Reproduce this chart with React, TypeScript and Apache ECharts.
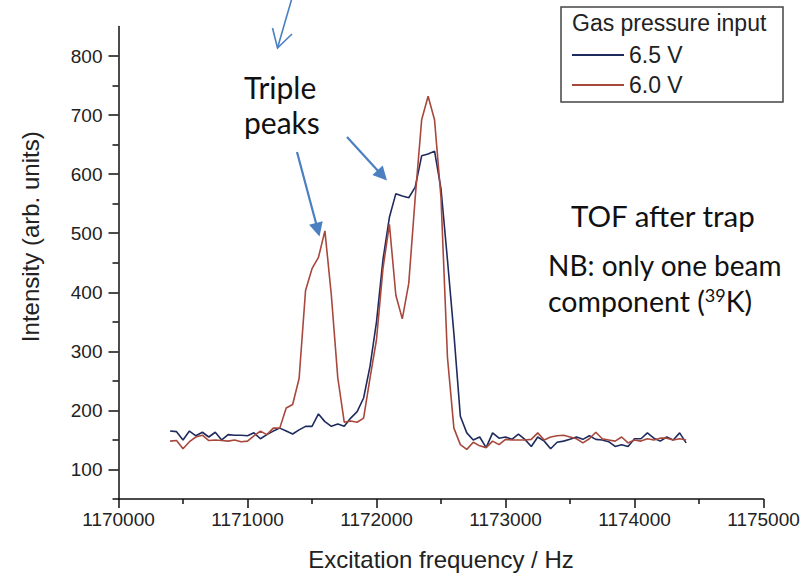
import { useEffect, useRef } from "react";
import * as echarts from "echarts";

// Excitation frequencies (Hz) of the scan
const frequencyHz = [
  1170400, 1170450, 1170500, 1170550, 1170600, 1170650, 1170700, 1170750, 1170800, 1170850,
  1170900, 1170950, 1171000, 1171050, 1171100, 1171150, 1171200, 1171250, 1171300, 1171350,
  1171400, 1171450, 1171500, 1171550, 1171600, 1171650, 1171700, 1171750, 1171800, 1171850,
  1171900, 1171950, 1172000, 1172050, 1172100, 1172150, 1172200, 1172250, 1172300, 1172350,
  1172400, 1172450, 1172500, 1172550, 1172600, 1172650, 1172700, 1172750, 1172800, 1172850,
  1172900, 1172950, 1173000, 1173050, 1173100, 1173150, 1173200, 1173250, 1173300, 1173350,
  1173400, 1173450, 1173500, 1173550, 1173600, 1173650, 1173700, 1173750, 1173800, 1173850,
  1173900, 1173950, 1174000, 1174050, 1174100, 1174150, 1174200, 1174250, 1174300, 1174350,
  1174400,
];

// Intensity (arb. units), gas pressure input 6.5 V
const intensity65V = [
  165, 164, 150, 165, 157, 163, 155, 163, 150, 159,
  158, 158, 157, 162, 152, 159, 165, 170, 165, 160,
  167, 173, 173, 194, 181, 173, 177, 173, 187, 198,
  221, 275, 350, 455, 527, 567, 563, 560, 578, 631,
  634, 639, 575, 455, 330, 190, 162, 150, 155, 137,
  162, 153, 155, 151, 160, 151, 139, 155, 148, 135,
  146, 148, 151, 155, 151, 157, 151, 150, 147, 139,
  142, 139, 152, 152, 162, 153, 148, 155, 150, 162,
  145,
];

// Intensity (arb. units), gas pressure input 6.0 V
const intensity60V = [
  148, 149, 135, 147, 155, 158, 149, 150, 149, 148,
  150, 147, 148, 157, 165, 159, 170, 170, 204, 210,
  254, 403, 440, 459, 504, 395, 255, 180, 182, 180,
  187, 255, 320, 440, 515, 395, 355, 415, 560, 692,
  732, 692, 560, 290, 170, 142, 134, 146, 140, 137,
  148, 142, 151, 150, 150, 150, 151, 162, 150, 155,
  157, 158, 155, 152, 145, 152, 163, 152, 150, 148,
  155, 145, 150, 148, 152, 150, 153, 153, 150, 152,
  150,
];

const seriesNames = ["6.5 V", "6.0 V"];
const seriesColors = ["#1f2b5e", "#a8483d"];
const legendTitle = "Gas pressure input";

const yMajorTicks = [100, 200, 300, 400, 500, 600, 700, 800];
const yMinorTicks = [50, 150, 250, 350, 450, 550, 650, 750];

const AXIS_FONT = "Liberation Sans, Arial, sans-serif";
const SLIDE_FONT = "Lato, Open Sans, sans-serif";
const ARROW = "#4a7fc1";

export default function App() {
  const ref = useRef<HTMLDivElement>(null);

  useEffect(() => {
    const chart = echarts.init(ref.current!, null, { renderer: "svg" });
    const pairs = (ys: number[]) => frequencyHz.map((f, i) => [f, ys[i]]);

    chart.setOption({
      animation: false,
      backgroundColor: "#ffffff",
      title: {
        text: legendTitle,
        left: 572,
        top: 11,
        padding: 0,
        textStyle: { fontFamily: AXIS_FONT, fontSize: 23, fontWeight: "normal", color: "#222" },
      },
      legend: {
        orient: "vertical",
        left: 572,
        top: 43.5,
        padding: 0,
        icon: "rect",
        itemWidth: 52,
        itemHeight: 2,
        itemGap: 7,
        data: seriesNames,
        textStyle: { fontFamily: AXIS_FONT, fontSize: 23, color: "#222", lineHeight: 23 },
      },
      grid: { left: 118.5, top: 26.5, width: 645, height: 475 },
      xAxis: {
        type: "value",
        min: 1170000,
        max: 1175000,
        interval: 1000,
        name: "Excitation frequency / Hz",
        nameLocation: "middle",
        nameGap: 48,
        nameTextStyle: { fontFamily: AXIS_FONT, fontSize: 24, color: "#222" },
        axisLine: { show: true, lineStyle: { color: "#111", width: 1.5 } },
        axisTick: { show: true, length: 9, lineStyle: { color: "#111", width: 1.5 } },
        minorTick: { show: true, splitNumber: 2, length: 5, lineStyle: { color: "#111", width: 1.5 } },
        axisLabel: {
          fontFamily: AXIS_FONT,
          fontSize: 19,
          color: "#222",
          margin: 11,
          formatter: (v: number) => String(v),
        },
        splitLine: { show: false },
      },
      yAxis: [
        {
          type: "value",
          min: 50,
          max: 850,
          position: "left",
          name: "Intensity (arb. units)",
          nameLocation: "middle",
          nameGap: 76,
          nameTextStyle: { fontFamily: AXIS_FONT, fontSize: 24, color: "#222", padding: [0, 0, 0, 52] },
          axisLine: { show: true, lineStyle: { color: "#111", width: 1.5 } },
          axisTick: { show: true, length: 10, customValues: yMajorTicks, lineStyle: { color: "#111", width: 1.5 } },
          axisLabel: { customValues: yMajorTicks, fontFamily: AXIS_FONT, fontSize: 19, color: "#222", margin: 16 },
          splitLine: { show: false },
        },
        {
          type: "value",
          min: 50,
          max: 850,
          position: "left",
          axisLine: { show: false },
          axisTick: { show: true, length: 6, customValues: yMinorTicks, lineStyle: { color: "#111", width: 1.5 } },
          axisLabel: { show: false },
          splitLine: { show: false },
        },
      ],
      series: [
        {
          name: seriesNames[0],
          type: "line",
          yAxisIndex: 0,
          data: pairs(intensity65V),
          symbol: "none",
          lineStyle: { color: seriesColors[0], width: 1.6 },
          itemStyle: { color: seriesColors[0] },
        },
        {
          name: seriesNames[1],
          type: "line",
          yAxisIndex: 0,
          data: pairs(intensity60V),
          symbol: "none",
          lineStyle: { color: seriesColors[1], width: 1.6 },
          itemStyle: { color: seriesColors[1] },
        },
      ],
      graphic: [
        // legend frame
        {
          type: "rect",
          shape: { x: 561, y: 7, width: 222, height: 95 },
          style: { fill: "none", stroke: "#444", lineWidth: 1.5 },
          silent: true,
        },
        // open arrow at the top
        {
          type: "line",
          shape: { x1: 292, y1: -2, x2: 277.5, y2: 48 },
          style: { stroke: ARROW, lineWidth: 1.6 },
        },
        {
          type: "polyline",
          shape: { points: [[272.5, 28], [277.5, 48], [292, 34]] },
          style: { stroke: ARROW, lineWidth: 1.6, fill: "none" },
        },
        // arrow to the first peak
        {
          type: "line",
          shape: { x1: 297, y1: 152, x2: 316.5, y2: 225 },
          style: { stroke: ARROW, lineWidth: 2.2 },
        },
        {
          type: "polygon",
          shape: { points: [[319.5, 236.5], [309.1, 224.8], [322.7, 221.2]] },
          style: { fill: ARROW },
        },
        // arrow to the middle peak
        {
          type: "line",
          shape: { x1: 347, y1: 137, x2: 379, y2: 172 },
          style: { stroke: ARROW, lineWidth: 2.2 },
        },
        {
          type: "polygon",
          shape: { points: [[387, 180.5], [372.4, 174.9], [382.7, 165.5]] },
          style: { fill: ARROW },
        },
        {
          type: "text",
          x: 244,
          y: 87,
          style: { text: "Triple", font: `30px ${SLIDE_FONT}`, fill: "#111", verticalAlign: "middle", align: "left" },
        },
        {
          type: "text",
          x: 244,
          y: 122,
          style: { text: "peaks", font: `30px ${SLIDE_FONT}`, fill: "#111", verticalAlign: "middle", align: "left" },
        },
        {
          type: "text",
          x: 571,
          y: 215,
          style: { text: "TOF after trap", font: `29.5px ${SLIDE_FONT}`, fill: "#111", verticalAlign: "middle", align: "left" },
        },
        {
          type: "text",
          x: 548,
          y: 265,
          style: { text: "NB: only one beam", font: `28px ${SLIDE_FONT}`, fill: "#111", verticalAlign: "middle", align: "left" },
        },
        {
          type: "text",
          x: 548,
          y: 301,
          style: {
            text: "{a|component (}{s|39}{a|K)}",
            font: `28.5px ${SLIDE_FONT}`,
            fill: "#111",
            verticalAlign: "middle",
            align: "left",
            rich: {
              a: { font: `28.5px ${SLIDE_FONT}`, fill: "#111", lineHeight: 30 },
              s: { font: `18px ${SLIDE_FONT}`, fill: "#111", verticalAlign: "top", lineHeight: 24 },
            },
          },
        },
      ],
    });

    return () => chart.dispose();
  }, []);

  return (
    <div
      ref={ref}
      style={{ position: "fixed", left: 0, top: 0, width: 811, height: 576, background: "#fff" }}
    />
  );
}
